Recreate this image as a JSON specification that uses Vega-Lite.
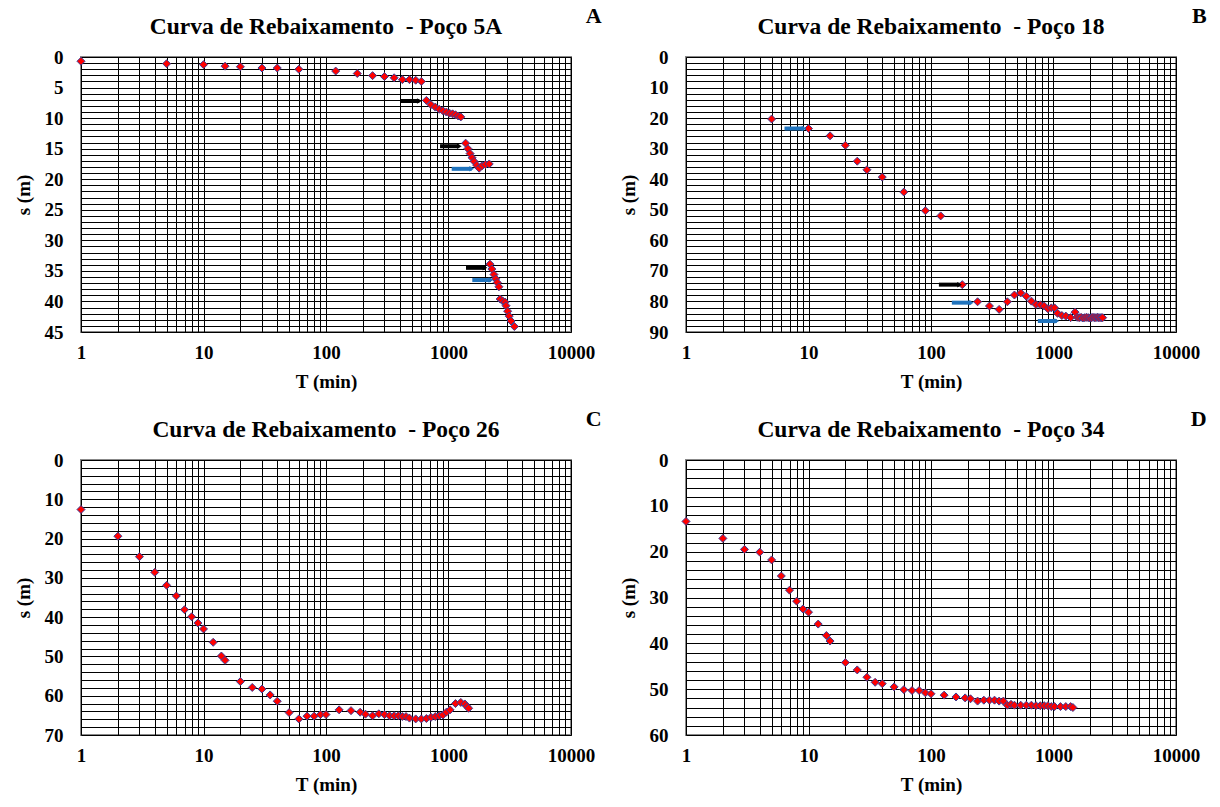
{
  "$schema": "https://vega.github.io/schema/vega-lite/v6.json",
  "background": "white",
  "padding": {"left": 13, "top": 4, "right": 0, "bottom": 0},
  "config": {
    "font": "Liberation Serif",
    "view": {"stroke": "#888888", "strokeWidth": 2},
    "title": {"font": "Liberation Serif", "fontSize": 23.5, "fontWeight": "bold", "color": "#000000"},
    "axis": {
      "grid": true, "gridColor": "#000000", "gridOpacity": 1, "gridWidth": 1,
      "ticks": false, "domain": false, "labelOverlap": false, "labelFlush": false, "labelBound": false,
      "labelFont": "Liberation Serif", "labelFontSize": 19, "labelFontWeight": "bold", "labelColor": "#000000",
      "titleFont": "Liberation Serif", "titleFontSize": 19, "titleFontWeight": "bold", "titleColor": "#000000"
    },
    "axisX": {"labelPadding": 11, "titlePadding": 10},
    "axisY": {"labelPadding": 18, "titlePadding": 11},
    "point": {"shape": "diamond", "filled": true, "fill": "#ff0000", "stroke": "#3c3c96", "strokeWidth": 1, "size": 64, "opacity": 1}
  },
  "datasets": {
    "a": [
      {"T":1,"s":0.7},{"T":5,"s":1.1},{"T":10,"s":1.25},{"T":15,"s":1.5},{"T":20,"s":1.6},{"T":30,"s":1.8},{"T":40,"s":1.8},{"T":60,"s":2.0},
      {"T":120,"s":2.3},{"T":180,"s":2.7},{"T":240,"s":3.05},{"T":300,"s":3.2},{"T":360,"s":3.4},{"T":420,"s":3.7},{"T":480,"s":3.7},{"T":540,"s":3.8},{"T":600,"s":4.0},
      {"T":660,"s":7.1},{"T":720,"s":7.8},{"T":780,"s":8.2},{"T":840,"s":8.55},{"T":900,"s":8.8},{"T":960,"s":9.0},{"T":1020,"s":9.2},{"T":1080,"s":9.3},{"T":1140,"s":9.45},{"T":1200,"s":9.65},{"T":1260,"s":9.8},
      {"T":1380,"s":14.1},{"T":1440,"s":15.0},{"T":1500,"s":15.8},{"T":1560,"s":16.5},{"T":1620,"s":17.1},{"T":1700,"s":17.7},{"T":1780,"s":18.2},{"T":1880,"s":17.8},{"T":2000,"s":17.6},{"T":2150,"s":17.5},
      {"T":2180,"s":33.9},{"T":2260,"s":34.7},{"T":2350,"s":35.6},{"T":2430,"s":36.3},{"T":2500,"s":36.9},{"T":2580,"s":37.6},
      {"T":2640,"s":39.6},{"T":2760,"s":39.9},{"T":2900,"s":40.1},{"T":2950,"s":40.7},{"T":3040,"s":41.6},{"T":3130,"s":42.4},{"T":3240,"s":43.2},{"T":3450,"s":44.1}
    ],
    "arrA": [
      {"T1":402,"T2":578,"s":7.2,"grupo":1},
      {"T1":853,"T2":1225,"s":14.6,"grupo":1},
      {"T1":1062,"T2":1547,"s":18.3,"grupo":2},
      {"T1":1389,"T2":1986,"s":34.5,"grupo":1},
      {"T1":1564,"T2":2222,"s":36.5,"grupo":2}
    ],
    "b": [
      {"T":5,"s":20.3},{"T":10,"s":23.4},{"T":15,"s":25.8},{"T":20,"s":28.9},{"T":25,"s":34.1},{"T":30,"s":36.9},{"T":40,"s":39.3},{"T":60,"s":44.2},{"T":90,"s":50.3},{"T":120,"s":52.0},
      {"T":180,"s":74.5},{"T":240,"s":80.1},{"T":300,"s":81.5},{"T":360,"s":82.6},{"T":420,"s":80.1},{"T":480,"s":77.9},{"T":540,"s":77.2},{"T":600,"s":78.3},{"T":660,"s":79.9},{"T":720,"s":81.0},
      {"T":780,"s":81.1},{"T":840,"s":81.5},{"T":900,"s":82.4},{"T":960,"s":82.1},{"T":1020,"s":82.1},{"T":1080,"s":83.9},{"T":1170,"s":84.6},{"T":1260,"s":84.8},{"T":1380,"s":85.3},{"T":1500,"s":83.5},
      {"T":1560,"s":85.2},{"T":1620,"s":85.3},{"T":1680,"s":85.2},{"T":1740,"s":85.4},{"T":1800,"s":85.3},{"T":1860,"s":85.2},{"T":1920,"s":85.3},{"T":1980,"s":85.4},{"T":2040,"s":85.3},
      {"T":2100,"s":85.2},{"T":2160,"s":85.3},{"T":2220,"s":85.3},{"T":2280,"s":85.2},{"T":2340,"s":85.3},{"T":2400,"s":85.3},{"T":2460,"s":85.3},{"T":2520,"s":85.3}
    ],
    "arrB": [
      {"T1":6.37,"T2":9.2,"s":23.4,"grupo":2},
      {"T1":116,"T2":171,"s":74.5,"grupo":1},
      {"T1":148,"T2":213,"s":80.4,"grupo":2},
      {"T1":745,"T2":1064,"s":86.4,"grupo":2}
    ],
    "c": [
      {"T":1,"s":12.6},{"T":2,"s":19.4},{"T":3,"s":24.6},{"T":4,"s":28.6},{"T":5,"s":31.9},{"T":6,"s":34.6},{"T":7,"s":38.1},{"T":8,"s":39.9},{"T":9,"s":41.5},{"T":10,"s":43.0},
      {"T":12,"s":46.4},{"T":14,"s":49.9},{"T":15,"s":51.0},{"T":20,"s":56.4},{"T":25,"s":57.9},{"T":30,"s":58.3},{"T":35,"s":59.8},{"T":40,"s":61.4},{"T":50,"s":64.3},{"T":60,"s":65.9},
      {"T":70,"s":65.2},{"T":80,"s":65.2},{"T":90,"s":64.8},{"T":100,"s":64.8},{"T":128,"s":63.6},{"T":160,"s":63.8},{"T":190,"s":64.2},{"T":210,"s":64.7},{"T":240,"s":65.1},{"T":270,"s":64.6},
      {"T":300,"s":64.8},{"T":330,"s":65.1},{"T":360,"s":65.1},{"T":390,"s":65.1},{"T":420,"s":65.3},{"T":450,"s":65.3},{"T":480,"s":65.7},{"T":540,"s":65.9},{"T":600,"s":65.9},{"T":660,"s":65.8},
      {"T":720,"s":65.5},{"T":780,"s":65.3},{"T":840,"s":65.1},{"T":900,"s":64.9},{"T":960,"s":64.2},{"T":1030,"s":63.6},{"T":1140,"s":62.0},{"T":1260,"s":61.7},{"T":1360,"s":62.1},{"T":1410,"s":62.7},{"T":1460,"s":63.2}
    ],
    "d": [
      {"T":1,"s":13.4},{"T":2,"s":17.1},{"T":3,"s":19.5},{"T":4,"s":20.1},{"T":5,"s":21.8},{"T":6,"s":25.3},{"T":7,"s":28.4},{"T":8,"s":30.8},{"T":9,"s":32.5},{"T":10,"s":33.2},
      {"T":12,"s":35.8},{"T":14,"s":38.3},{"T":15,"s":39.5},{"T":20,"s":44.2},{"T":25,"s":45.8},{"T":30,"s":47.4},{"T":35,"s":48.5},{"T":40,"s":48.8},{"T":50,"s":49.5},{"T":60,"s":50.1},
      {"T":70,"s":50.3},{"T":80,"s":50.3},{"T":90,"s":50.8},{"T":100,"s":51.0},{"T":128,"s":51.3},{"T":160,"s":51.7},{"T":190,"s":51.9},{"T":210,"s":52.1},{"T":240,"s":52.6},{"T":270,"s":52.4},
      {"T":300,"s":52.4},{"T":330,"s":52.4},{"T":360,"s":52.6},{"T":390,"s":52.6},{"T":420,"s":53.5},{"T":450,"s":53.3},{"T":480,"s":53.5},{"T":540,"s":53.5},{"T":600,"s":53.5},{"T":660,"s":53.5},
      {"T":720,"s":53.6},{"T":780,"s":53.6},{"T":840,"s":53.6},{"T":900,"s":53.6},{"T":960,"s":53.8},{"T":1020,"s":53.8},{"T":1140,"s":53.8},{"T":1260,"s":53.8},{"T":1380,"s":53.8},{"T":1440,"s":54.0}
    ]
  },
  "spacing": 15,
  "vconcat": [
    {
      "spacing": 16,
      "hconcat": [
        {
          "title": {"text": "A", "anchor": "end", "dx": 6, "offset": -14, "fontSize": 22},
          "vconcat": [
            {
              "width": 490, "height": 275,
              "title": {"text": "Curva de Rebaixamento \u00a0- Poço 5A", "offset": 10},
              "layer": [
                {
                  "data": {"name": "a"},
                  "mark": {"type": "point"},
                  "encoding": {
                    "x": {"field": "T", "type": "quantitative", "scale": {"type": "log", "domain": [1, 10000]},
                      "axis": {"title": "T (min)", "values": [1,2,3,4,5,6,7,8,9,10,20,30,40,50,60,70,80,90,100,200,300,400,500,600,700,800,900,1000,2000,3000,4000,5000,6000,7000,8000,9000,10000],
                        "labelExpr": "indexof([1,10,100,1000,10000], datum.value) >= 0 ? format(datum.value, 'd') : ''"}},
                    "y": {"field": "s", "type": "quantitative", "scale": {"domain": [0, 45], "reverse": true, "nice": false, "zero": true},
                      "axis": {"title": "s (m)", "values": [0,1,2,3,4,5,6,7,8,9,10,11,12,13,14,15,16,17,18,19,20,21,22,23,24,25,26,27,28,29,30,31,32,33,34,35,36,37,38,39,40,41,42,43,44,45],
                        "labelExpr": "datum.value % 5 == 0 ? datum.label : ''"}}
                  }
                },
                {
                  "data": {"name": "arrA"},
                  "mark": {"type": "rule", "strokeWidth": 4},
                  "encoding": {
                    "x": {"field": "T1", "type": "quantitative", "scale": {"type": "log", "domain": [1, 10000]},
                      "axis": {"title": "T (min)", "values": [1,2,3,4,5,6,7,8,9,10,20,30,40,50,60,70,80,90,100,200,300,400,500,600,700,800,900,1000,2000,3000,4000,5000,6000,7000,8000,9000,10000],
                        "labelExpr": "indexof([1,10,100,1000,10000], datum.value) >= 0 ? format(datum.value, 'd') : ''"}},
                    "x2": {"field": "T2"},
                    "y": {"field": "s", "type": "quantitative", "scale": {"domain": [0, 45], "reverse": true, "nice": false, "zero": true},
                      "axis": {"title": "s (m)", "values": [0,1,2,3,4,5,6,7,8,9,10,11,12,13,14,15,16,17,18,19,20,21,22,23,24,25,26,27,28,29,30,31,32,33,34,35,36,37,38,39,40,41,42,43,44,45],
                        "labelExpr": "datum.value % 5 == 0 ? datum.label : ''"}},
                    "color": {"field": "grupo", "type": "nominal", "scale": {"domain": [1, 2], "range": ["#000000", "#1f73bd"]}, "legend": null}
                  }
                },
                {
                  "data": {"name": "arrA"},
                  "mark": {"type": "point", "shape": "triangle-right", "filled": true, "size": 30, "strokeWidth": 0},
                  "encoding": {
                    "x": {"field": "T2", "type": "quantitative", "scale": {"type": "log", "domain": [1, 10000]},
                      "axis": {"title": "T (min)", "values": [1,2,3,4,5,6,7,8,9,10,20,30,40,50,60,70,80,90,100,200,300,400,500,600,700,800,900,1000,2000,3000,4000,5000,6000,7000,8000,9000,10000],
                        "labelExpr": "indexof([1,10,100,1000,10000], datum.value) >= 0 ? format(datum.value, 'd') : ''"}},
                    "y": {"field": "s", "type": "quantitative", "scale": {"domain": [0, 45], "reverse": true, "nice": false, "zero": true},
                      "axis": {"title": "s (m)", "values": [0,1,2,3,4,5,6,7,8,9,10,11,12,13,14,15,16,17,18,19,20,21,22,23,24,25,26,27,28,29,30,31,32,33,34,35,36,37,38,39,40,41,42,43,44,45],
                        "labelExpr": "datum.value % 5 == 0 ? datum.label : ''"}},
                    "color": {"field": "grupo", "type": "nominal", "scale": {"domain": [1, 2], "range": ["#000000", "#1f73bd"]}, "legend": null}
                  }
                }
              ]
            }
          ]
        },
        {
          "title": {"text": "B", "anchor": "end", "dx": 6, "offset": -14, "fontSize": 22},
          "vconcat": [
            {
              "width": 490, "height": 275,
              "title": {"text": "Curva de Rebaixamento \u00a0- Poço 18", "offset": 10},
              "layer": [
                {
                  "data": {"name": "b"},
                  "mark": {"type": "point"},
                  "encoding": {
                    "x": {"field": "T", "type": "quantitative", "scale": {"type": "log", "domain": [1, 10000]},
                      "axis": {"title": "T (min)", "values": [1,2,3,4,5,6,7,8,9,10,20,30,40,50,60,70,80,90,100,200,300,400,500,600,700,800,900,1000,2000,3000,4000,5000,6000,7000,8000,9000,10000],
                        "labelExpr": "indexof([1,10,100,1000,10000], datum.value) >= 0 ? format(datum.value, 'd') : ''"}},
                    "y": {"field": "s", "type": "quantitative", "scale": {"domain": [0, 90], "reverse": true, "nice": false, "zero": true},
                      "axis": {"title": "s (m)", "values": [0,2,4,6,8,10,12,14,16,18,20,22,24,26,28,30,32,34,36,38,40,42,44,46,48,50,52,54,56,58,60,62,64,66,68,70,72,74,76,78,80,82,84,86,88,90],
                        "labelExpr": "datum.value % 10 == 0 ? datum.label : ''"}}
                  }
                },
                {
                  "data": {"name": "arrB"},
                  "mark": {"type": "rule", "strokeWidth": 4},
                  "encoding": {
                    "x": {"field": "T1", "type": "quantitative", "scale": {"type": "log", "domain": [1, 10000]},
                      "axis": {"title": "T (min)", "values": [1,2,3,4,5,6,7,8,9,10,20,30,40,50,60,70,80,90,100,200,300,400,500,600,700,800,900,1000,2000,3000,4000,5000,6000,7000,8000,9000,10000],
                        "labelExpr": "indexof([1,10,100,1000,10000], datum.value) >= 0 ? format(datum.value, 'd') : ''"}},
                    "x2": {"field": "T2"},
                    "y": {"field": "s", "type": "quantitative", "scale": {"domain": [0, 90], "reverse": true, "nice": false, "zero": true},
                      "axis": {"title": "s (m)", "values": [0,2,4,6,8,10,12,14,16,18,20,22,24,26,28,30,32,34,36,38,40,42,44,46,48,50,52,54,56,58,60,62,64,66,68,70,72,74,76,78,80,82,84,86,88,90],
                        "labelExpr": "datum.value % 10 == 0 ? datum.label : ''"}},
                    "color": {"field": "grupo", "type": "nominal", "scale": {"domain": [1, 2], "range": ["#000000", "#1f73bd"]}, "legend": null}
                  }
                },
                {
                  "data": {"name": "arrB"},
                  "mark": {"type": "point", "shape": "triangle-right", "filled": true, "size": 30, "strokeWidth": 0},
                  "encoding": {
                    "x": {"field": "T2", "type": "quantitative", "scale": {"type": "log", "domain": [1, 10000]},
                      "axis": {"title": "T (min)", "values": [1,2,3,4,5,6,7,8,9,10,20,30,40,50,60,70,80,90,100,200,300,400,500,600,700,800,900,1000,2000,3000,4000,5000,6000,7000,8000,9000,10000],
                        "labelExpr": "indexof([1,10,100,1000,10000], datum.value) >= 0 ? format(datum.value, 'd') : ''"}},
                    "y": {"field": "s", "type": "quantitative", "scale": {"domain": [0, 90], "reverse": true, "nice": false, "zero": true},
                      "axis": {"title": "s (m)", "values": [0,2,4,6,8,10,12,14,16,18,20,22,24,26,28,30,32,34,36,38,40,42,44,46,48,50,52,54,56,58,60,62,64,66,68,70,72,74,76,78,80,82,84,86,88,90],
                        "labelExpr": "datum.value % 10 == 0 ? datum.label : ''"}},
                    "color": {"field": "grupo", "type": "nominal", "scale": {"domain": [1, 2], "range": ["#000000", "#1f73bd"]}, "legend": null}
                  }
                }
              ]
            }
          ]
        }
      ]
    },
    {
      "spacing": 16,
      "hconcat": [
        {
          "title": {"text": "C", "anchor": "end", "dx": 6, "offset": -14, "fontSize": 22},
          "vconcat": [
            {
              "width": 490, "height": 275,
              "title": {"text": "Curva de Rebaixamento \u00a0- Poço 26", "offset": 10},
              "data": {"name": "c"},
              "mark": {"type": "point"},
              "encoding": {
                "x": {"field": "T", "type": "quantitative", "scale": {"type": "log", "domain": [1, 10000]},
                  "axis": {"title": "T (min)", "values": [1,2,3,4,5,6,7,8,9,10,20,30,40,50,60,70,80,90,100,200,300,400,500,600,700,800,900,1000,2000,3000,4000,5000,6000,7000,8000,9000,10000],
                    "labelExpr": "indexof([1,10,100,1000,10000], datum.value) >= 0 ? format(datum.value, 'd') : ''"}},
                "y": {"field": "s", "type": "quantitative", "scale": {"domain": [0, 70], "reverse": true, "nice": false, "zero": true},
                  "axis": {"title": "s (m)", "values": [0,2,4,6,8,10,12,14,16,18,20,22,24,26,28,30,32,34,36,38,40,42,44,46,48,50,52,54,56,58,60,62,64,66,68,70],
                    "labelExpr": "datum.value % 10 == 0 ? datum.label : ''"}}
              }
            }
          ]
        },
        {
          "title": {"text": "D", "anchor": "end", "dx": 6, "offset": -14, "fontSize": 22},
          "vconcat": [
            {
              "width": 490, "height": 275,
              "title": {"text": "Curva de Rebaixamento \u00a0- Poço 34", "offset": 10},
              "data": {"name": "d"},
              "mark": {"type": "point"},
              "encoding": {
                "x": {"field": "T", "type": "quantitative", "scale": {"type": "log", "domain": [1, 10000]},
                  "axis": {"title": "T (min)", "values": [1,2,3,4,5,6,7,8,9,10,20,30,40,50,60,70,80,90,100,200,300,400,500,600,700,800,900,1000,2000,3000,4000,5000,6000,7000,8000,9000,10000],
                    "labelExpr": "indexof([1,10,100,1000,10000], datum.value) >= 0 ? format(datum.value, 'd') : ''"}},
                "y": {"field": "s", "type": "quantitative", "scale": {"domain": [0, 60], "reverse": true, "nice": false, "zero": true},
                  "axis": {"title": "s (m)", "values": [0,2,4,6,8,10,12,14,16,18,20,22,24,26,28,30,32,34,36,38,40,42,44,46,48,50,52,54,56,58,60],
                    "labelExpr": "datum.value % 10 == 0 ? datum.label : ''"}}
              }
            }
          ]
        }
      ]
    }
  ]
}
